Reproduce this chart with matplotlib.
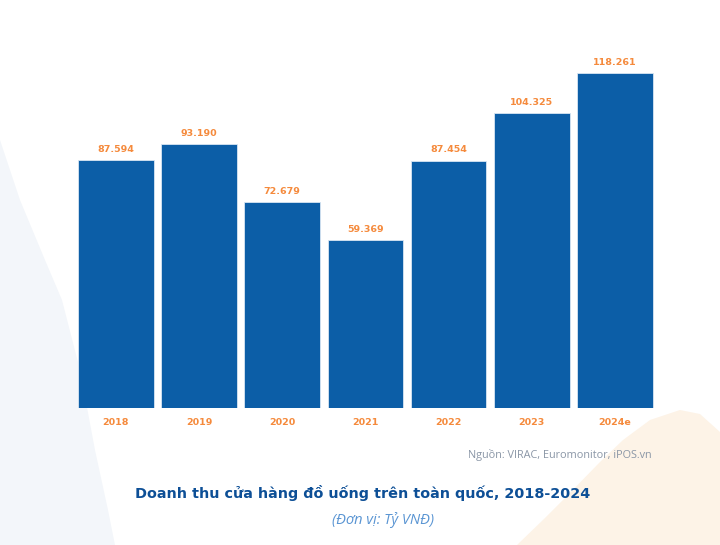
import matplotlib
matplotlib.use("Agg")
import matplotlib.pyplot as plt
from matplotlib.patches import Polygon

years = ["2018", "2019", "2020", "2021", "2022", "2023", "2024e"]
revenue = [87.594, 93.190, 72.679, 59.369, 87.454, 104.325, 118.261]
value_labels = ["87.594", "93.190", "72.679", "59.369", "87.454", "104.325", "118.261"]

title = "Doanh thu cửa hàng đồ uống trên toàn quốc, 2018-2024"
subtitle = "(Đơn vị: Tỷ VNĐ)"
source = "Nguồn: VIRAC, Euromonitor, iPOS.vn"

bar_color = "#0c5ea7"
orange = "#f58a3c"

plt.rcParams['font.family'] = ['DejaVu Sans']

fig = plt.figure(figsize=(7.2, 5.45), dpi=100)
fig.patch.set_facecolor("white")

# background shapes
bg = fig.add_axes([0, 0, 1, 1], zorder=0)
bg.set_xlim(0, 720)
bg.set_ylim(545, 0)
bg.axis("off")
bg.add_patch(Polygon([(0, 140), (20, 200), (45, 260), (62, 300), (80, 370),
                      (95, 450), (108, 510), (115, 545), (0, 545)],
                     closed=True, facecolor="#f3f6fa", edgecolor="none"))
bg.add_patch(Polygon([(517, 545), (545, 518), (563, 500), (600, 462), (623, 440),
                      (650, 420), (680, 410), (700, 414), (720, 432), (720, 545)],
                     closed=True, facecolor="#fdf3e7", edgecolor="none"))

ax = fig.add_axes([0.1033, 0.2514, 0.8086, 0.675], zorder=1)
ax.patch.set_alpha(0)
x = list(range(len(years)))
bars = ax.bar(x, revenue, width=0.91, color=bar_color, edgecolor="#d8e6f3", linewidth=0.6)
ax.set_xlim(-0.5, 6.5)
ax.set_ylim(0, 130)
for xi, v, lab in zip(x, revenue, value_labels):
    ax.text(xi, v + 2.2, lab, ha="center", va="bottom", color=orange,
            fontsize=6.8, fontweight="bold")
ax.set_xticks(x)
ax.set_xticklabels(years, color=orange, fontsize=6.8, fontweight="bold")
ax.tick_params(axis="x", length=0, pad=7)
ax.set_yticks([])
for s in ax.spines.values():
    s.set_visible(False)

fig.text(652 / 720, 1 - 455 / 545, source, ha="right", va="center",
         fontsize=7.8, color="#8a96a6", family=["Open Sans", "DejaVu Sans"])
fig.text(363 / 720, 1 - 493 / 545, title, ha="center", va="center",
         fontsize=10.4, fontweight="bold", color="#0d4f96")
fig.text(383 / 720, 1 - 520 / 545, subtitle, ha="center", va="center",
         fontsize=10.5, style="italic", color="#5a95d3",
         family=["Open Sans", "DejaVu Sans"])

fig.savefig("out.png", dpi=100)
